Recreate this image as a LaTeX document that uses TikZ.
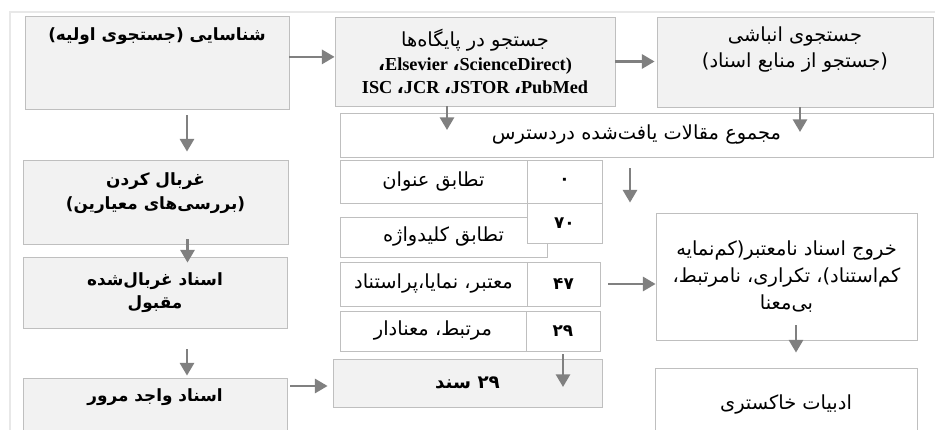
\documentclass[tikz,border=0pt]{standalone}
\usepackage{fontspec}
\usetikzlibrary{arrows.meta, positioning}
\TeXXeTstate=1
\newfontfamily\farsifont[Script=Arabic]{DejaVu Sans}
\newfontfamily\latinfont{Liberation Serif}
\newcommand{\rl}[1]{\beginR #1\endR}
\definecolor{boxFill}{HTML}{F2F2F2}
\definecolor{boxLine}{HTML}{BFBFBF}
\definecolor{arrowGray}{HTML}{808080}
\definecolor{frameGray}{HTML}{E8E8E8}

\begin{document}
\begin{tikzpicture}[
    box/.style = {draw = boxLine, line width = 0.6pt, fill = boxFill, inner sep = 0pt,
      font = \farsifont\fontsize{13.8}{19}\selectfont, align = center},
    cell/.style = {box, fill = white},
    boldtxt/.style = {inner sep = 0pt, align = center,
      font = \farsifont\bfseries\fontsize{12}{16.5}\selectfont},
    flow/.style = {draw = arrowGray, line width = 1.9pt, -{Triangle[width = 10pt, length = 9pt]}},
  ]
		\clip (0, 0) rectangle (23.375, -10.75);
		\fill[white] (0, 0) rectangle (23.375, -10.75);
		\draw[frameGray, line width = 1pt] (0.25, -10.75) -- (0.25, -0.3) -- (23.375, -0.3);
		%%%%%%%%%%%%% left column
		\node[box, minimum width = 6.6cm, minimum height = 2.325cm] (ident) at (3.925, -1.5625) {};
		\node[boldtxt] (identT) at ([yshift = -0.525cm]ident.north) {\rl{شناسایی (جستجوی اولیه)}};
		\node[box, minimum width = 6.625cm, minimum height = 2.1cm] (sift) at (3.8875, -5.05) {};
		\node[boldtxt] (siftT) at ([yshift = -0.8375cm]sift.north) {\rl{غربال کردن}\\ \rl{(بررسی‌های معیارین)}};
		\node[box, boldtxt, minimum width = 6.6cm, minimum height = 1.775cm] (accepted) at (3.875, -7.3125) {\rl{اسناد غربال‌شده}\\ \rl{مقبول}};
		\node[box, minimum width = 6.6cm, minimum height = 1.55cm] (review) at (3.875, -10.225) {};
		\node[boldtxt] (reviewT) at ([yshift = -0.5cm]review.north) {\rl{اسناد واجد مرور}};
		%%%%%%%%%%%%% top row
		\node[box, minimum width = 7cm, minimum height = 2.225cm, font = \farsifont\fontsize{13.8}{16.7}\selectfont] (base) at (11.875, -1.5375)
			{\rl{جستجو در پایگاه‌ها}\\
			 {\latinfont\bfseries\fontsize{13}{16.7}\selectfont {\farsifont ،}Elsevier {\farsifont ،}ScienceDirect)}\\
			 {\latinfont\bfseries\fontsize{13}{16.7}\selectfont ISC {\farsifont ،}JCR {\farsifont ،}JSTOR {\farsifont ،}PubMed}};
		\node[box, minimum width = 6.9cm, minimum height = 2.25cm] (cumul) at (19.875, -1.55) {};
		\node[inner sep = 0pt, align = center, font = \farsifont\fontsize{13.8}{18.5}\selectfont] (cumulT)
			at ([yshift = -0.825cm]cumul.north) {\rl{جستجوی انباشی}\\ \rl{(جستجو از منابع اسناد)}};
		\node[cell, minimum width = 14.825cm, minimum height = 1.1cm] (found) at (15.9125, -3.375) {\rl{مجموع مقالات یافت‌شده دردسترس}};
		%%%%%%%%%%%%% table
		\node[cell, minimum width = 4.675cm, minimum height = 1.075cm] (titleL) at (10.8375, -4.5375) {\rl{تطابق عنوان}};
		\node[cell, boldtxt, minimum width = 1.875cm, minimum height = 1.075cm] (titleN) at (14.1125, -4.5375) {۰};
		\node[cell, minimum width = 5.175cm, minimum height = 1cm] (keyL) at (11.0875, -5.925) {\rl{تطابق کلیدواژه}};
		\node[cell, boldtxt, minimum width = 1.875cm, minimum height = 1cm] (keyN) at (14.1125, -5.575) {۷۰};
		\node[cell, minimum width = 4.675cm, minimum height = 1.1cm] (validL) at (10.8375, -7.1) {\rl{معتبر، نمایا،پراستناد}};
		\node[cell, boldtxt, minimum width = 1.825cm, minimum height = 1.1cm] (validN) at (14.0875, -7.1) {۴۷};
		\node[cell, minimum width = 4.65cm, minimum height = 1cm] (relL) at (10.825, -8.275) {\rl{مرتبط، معنادار}};
		\node[cell, boldtxt, minimum width = 1.85cm, minimum height = 1cm] (relN) at (14.075, -8.275) {۲۹};
		\node[box, boldtxt, minimum width = 6.725cm, minimum height = 1.2cm, font = \farsifont\bfseries\fontsize{13}{16}\selectfont] (docs) at (11.6875, -9.575) {\rl{۲۹ سند}};
		%%%%%%%%%%%%% right column
		\node[cell, minimum width = 6.525cm, minimum height = 3.175cm] (invalid) at (19.6625, -6.9125)
			{\rl{خروج اسناد نامعتبر(کم‌نمایه}\\ \rl{کم‌استناد)، تکراری، نامرتبط،}\\ \rl{بی‌معنا}};
		\node[cell, minimum width = 6.55cm, minimum height = 1.8cm] (grey) at (19.65, -10.1) {\rl{ادبیات خاکستری}};
		%%%%%%%%%%%%% arrows
		\draw[flow] ([yshift = 0.14cm]ident.east) -- ([yshift = 0.14cm]ident.east -| base.west);
		\draw[flow, shorten >= 0.05cm] (base.east) -- (base.east -| cumul.west);
		\draw[flow, shorten <= 0.15cm, shorten >= 0.2cm] ([xshift = 0.75cm]ident.south) -- ([xshift = 0.75cm]ident.south |- sift.north);
		\draw[flow, shorten <= -0.125cm, shorten >= -0.15cm] ([xshift = 0.8cm]sift.south) -- ([xshift = 0.8cm]sift.south |- accepted.north);
		\draw[flow, shorten <= 0.525cm, shorten >= 0.05cm] ([xshift = 0.8cm]accepted.south) -- ([xshift = 0.8cm]accepted.south |- review.north);
		\draw[flow, shorten <= 0.075cm, shorten >= 0.125cm] ([yshift = -0.075cm]docs.west -| review.east) -- ([yshift = -0.075cm]docs.west);
		\draw[flow, shorten >= 0.125cm] ([xshift = -0.7cm]base.south) -- ([xshift = -0.7cm]base.south |- found.center);
		\draw[flow, shorten >= 0.075cm] ([xshift = 0.125cm]cumul.south) -- ([xshift = 0.125cm]cumul.south |- found.center);
		\draw[flow, shorten <= 0.275cm] ([xshift = -0.1625cm]found.south) -- ([xshift = -0.1625cm]found.south |- keyN.north);
		\draw[flow, shorten <= 0.2cm] (validN.east) -- (validN.east -| invalid.west);
		\draw[flow, shorten <= 0.075cm, shorten >= -0.1cm] (relN.south) -- (relN.south |- docs.center);
		\draw[flow, shorten <= -0.375cm, shorten >= 0.375cm] ([xshift = 0.2375cm]invalid.south) -- ([xshift = 0.2375cm]invalid.south |- grey.north);
\end{tikzpicture}
\end{document}
